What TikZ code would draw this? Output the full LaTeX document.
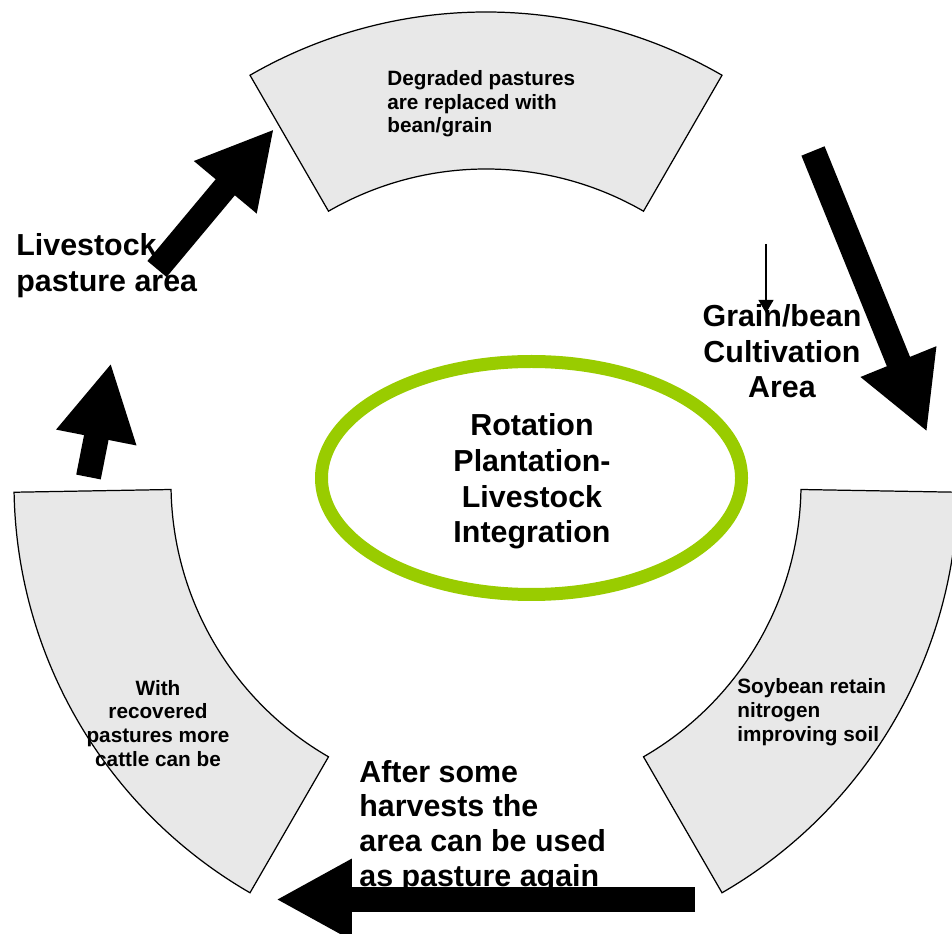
\documentclass[tikz,border=0pt]{standalone}
\usepackage{fontspec}
\setmainfont{Liberation Sans}
\usetikzlibrary{arrows.meta}
\definecolor{segfill}{HTML}{E8E8E8}
\definecolor{ringgreen}{HTML}{99CC00}

\begin{document}
\begin{tikzpicture}[x=0.02cm, y=0.02cm]
        % styles
        \tikzstyle{segment}=[draw=black, fill=segfill, line width=0.7pt]
        \tikzstyle{small}=[font=\bfseries\fontsize{11.8}{13.4}\selectfont, inner sep=0pt]
        \tikzstyle{big}=[font=\bfseries\fontsize{17.3}{20.4}\selectfont, inner sep=0pt]
        \tikzstyle{block}=[line width=0.5cm, -{Triangle[width=1.52cm, length=1.52cm]}]
        \tikzstyle{pointer}=[line width=0.6pt, -{Triangle[width=0.3cm, length=0.26cm]}]

        \clip (0,0) rectangle (952,933);
        \coordinate (c) at (486,449);

        % segments
        \draw[segment] ([shift={(60:472)}]c) arc[start angle=60, end angle=120, radius=472]
            -- ([shift={(120:315)}]c) arc[start angle=120, end angle=60, radius=315] -- cycle;
        \draw[segment] ([shift={(-1:472)}]c) arc[start angle=-1, end angle=-60, radius=472]
            -- ([shift={(-60:315)}]c) arc[start angle=-60, end angle=-1, radius=315] -- cycle;
        \draw[segment] ([shift={(181:472)}]c) arc[start angle=181, end angle=240, radius=472]
            -- ([shift={(240:315)}]c) arc[start angle=240, end angle=181, radius=315] -- cycle;

        % centre
        \draw[ringgreen, line width=0.26cm] (531.5,455) ellipse [x radius=210, y radius=116.5];
        \node[big, align=center, anchor=base] (rotation) at (532,390)
            {Rotation\\Plantation-\\Livestock\\Integration};

        % texts
        \node[small, align=left, anchor=base west] (degraded) at (387,800)
            {Degraded pastures\\are replaced with\\bean/grain};
        \node[small, align=left, anchor=base west] (soybean) at (737,192)
            {Soybean retain\\nitrogen\\improving soil};
        \node[small, align=center, anchor=base] (recovered) at (158,167)
            {With\\recovered\\pastures more\\cattle can be};
        \node[big, align=left, anchor=base west, font=\bfseries\fontsize{17.3}{21}\selectfont] (livestock) at (16,641)
            {Livestock\\pasture area};
        \node[big, align=center, anchor=base] (grainbean) at (782,535)
            {Grain/bean\\Cultivation\\Area};
        \node[big, align=left, anchor=base west, font=\bfseries\fontsize{17.3}{19.7}\selectfont] (harvests) at (359,47)
            {After some\\harvests the\\area can be used\\as pasture again};

        % arrows
        \coordinate (a1) at (157,664);  \coordinate (b1) at (274,804);
        \coordinate (a2) at (88.5,456); \coordinate (b2) at (111,570);
        \coordinate (a3) at (813,782);  \coordinate (b3) at (927,501);
        \coordinate (a4) at (695,33.5); \coordinate (b4) at (276,33.5);
        \draw[block] (a1) -- (b1);
        \draw[block] (a2) -- (b2);
        \draw[block] (a3) -- (b3);
        \draw[block] (a4) -- (b4);

        \coordinate (p) at (766,689); \coordinate (q) at (766,620);
        \draw[pointer] (p) -- (q);
    \end{tikzpicture}
\end{document}
